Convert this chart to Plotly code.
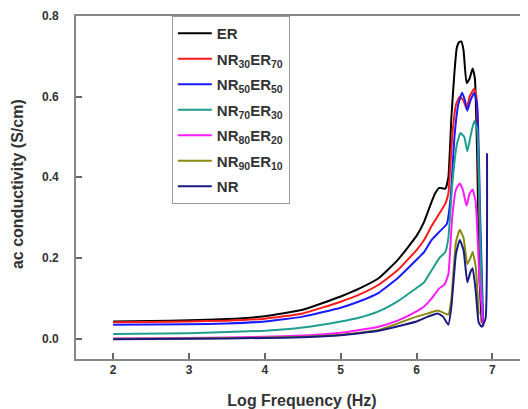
import plotly.graph_objects as go

# ---- data ----
er_x = [2.0, 2.5, 3.0, 3.5, 4.0, 4.5, 5.0, 5.25, 5.5, 5.75, 6.0, 6.1, 6.2, 6.25, 6.3, 6.38, 6.42, 6.46, 6.5, 6.53, 6.56, 6.59, 6.62, 6.66, 6.7, 6.74, 6.77, 6.8, 6.83, 6.86]
er_y = [0.043, 0.044, 0.046, 0.049, 0.056, 0.072, 0.105, 0.125, 0.15, 0.195, 0.255, 0.29, 0.34, 0.362, 0.374, 0.372, 0.40, 0.55, 0.66, 0.72, 0.735, 0.737, 0.715, 0.634, 0.645, 0.67, 0.645, 0.45, 0.15, 0.04]

nr30_x = [2.0, 2.5, 3.0, 3.5, 4.0, 4.5, 5.0, 5.25, 5.5, 5.75, 6.0, 6.1, 6.2, 6.3, 6.38, 6.42, 6.47, 6.52, 6.57, 6.62, 6.66, 6.7, 6.76, 6.79, 6.83, 6.87]
nr30_y = [0.041, 0.042, 0.043, 0.045, 0.05, 0.063, 0.092, 0.11, 0.134, 0.17, 0.22, 0.245, 0.28, 0.31, 0.335, 0.36, 0.5, 0.58, 0.6, 0.59, 0.57, 0.6, 0.62, 0.6, 0.3, 0.04]

nr50_x = [2.0, 3.0, 3.5, 4.0, 4.5, 5.0, 5.25, 5.5, 5.75, 6.0, 6.1, 6.2, 6.3, 6.4, 6.45, 6.5, 6.55, 6.6, 6.64, 6.67, 6.71, 6.76, 6.8, 6.84, 6.88]
nr50_y = [0.035, 0.036, 0.038, 0.043, 0.055, 0.077, 0.093, 0.114, 0.15, 0.196, 0.215, 0.245, 0.265, 0.285, 0.35, 0.5, 0.58, 0.61, 0.59, 0.565, 0.59, 0.61, 0.58, 0.3, 0.035]

nr70_x = [2.0, 3.0, 4.0, 4.5, 5.0, 5.25, 5.5, 5.75, 6.0, 6.1, 6.2, 6.3, 6.38, 6.42, 6.47, 6.53, 6.58, 6.63, 6.67, 6.71, 6.76, 6.8, 6.84, 6.87]
nr70_y = [0.012, 0.014, 0.02, 0.028, 0.043, 0.053, 0.068, 0.093, 0.126, 0.14, 0.17, 0.2, 0.215, 0.25, 0.38, 0.48, 0.51, 0.5, 0.465, 0.5, 0.54, 0.52, 0.25, 0.05]

nr80_x = [2.0, 3.0, 4.0, 4.5, 5.0, 5.25, 5.5, 5.75, 6.0, 6.1, 6.2, 6.3, 6.37, 6.42, 6.47, 6.52, 6.57, 6.61, 6.66, 6.7, 6.74, 6.78, 6.83, 6.88]
nr80_y = [0.001, 0.002, 0.005, 0.008, 0.015, 0.022, 0.03, 0.045, 0.068, 0.08, 0.1, 0.125, 0.135, 0.16, 0.3, 0.37, 0.385, 0.37, 0.33, 0.36, 0.37, 0.34, 0.15, 0.03]

nr90_x = [2.0, 3.0, 4.0, 4.5, 5.0, 5.5, 6.0, 6.15, 6.28, 6.35, 6.42, 6.46, 6.52, 6.57, 6.62, 6.67, 6.71, 6.74, 6.78, 6.82]
nr90_y = [0.0, 0.001, 0.003, 0.005, 0.01, 0.022, 0.055, 0.063, 0.07, 0.065, 0.06, 0.1, 0.24, 0.27, 0.25, 0.185, 0.2, 0.215, 0.18, 0.06]

nr_x = [2.0, 3.0, 4.0, 4.5, 5.0, 5.5, 6.0, 6.15, 6.28, 6.35, 6.42, 6.46, 6.52, 6.57, 6.62, 6.67, 6.71, 6.74, 6.78, 6.82, 6.86, 6.91, 6.93]
nr_y = [-0.001, 0.0, 0.002, 0.004, 0.009, 0.02, 0.043, 0.055, 0.063, 0.055, 0.035, 0.08, 0.21, 0.245, 0.22, 0.14, 0.165, 0.175, 0.12, 0.04, 0.03, 0.05, 0.46]

names = ["ER", "NR<sub>30</sub>ER<sub>70</sub>", "NR<sub>50</sub>ER<sub>50</sub>",
         "NR<sub>70</sub>ER<sub>30</sub>", "NR<sub>80</sub>ER<sub>20</sub>",
         "NR<sub>90</sub>ER<sub>10</sub>", "NR"]
xs = [er_x, nr30_x, nr50_x, nr70_x, nr80_x, nr90_x, nr_x]
ys = [er_y, nr30_y, nr50_y, nr70_y, nr80_y, nr90_y, nr_y]
colors = ["#000000", "#ff1a1a", "#1a1aff", "#1f9e8e", "#ff1aff", "#8a8a10", "#1a1a80"]

x_ticks = [2, 3, 4, 5, 6, 7]
y_ticks = [0.0, 0.2, 0.4, 0.6, 0.8]
y_tick_labels = ["0.0", "0.2", "0.4", "0.6", "0.8"]

fig = go.Figure()
for i, (n, x, y, c) in enumerate(zip(names, xs, ys, colors)):
    fig.add_trace(go.Scatter(x=x, y=y, name=n, mode="lines", legendgroup="g%d" % i,
                             line=dict(color=c, width=2, shape="spline", smoothing=0.4)))

font = "Liberation Sans, Arial, sans-serif"
tick_font = dict(size=12, family=font, color="#333333", weight="bold")

# y tick labels placed at the axis' own tick values, just left of the axis line
for v, t in zip(y_ticks, y_tick_labels):
    fig.add_annotation(x=0, xref="paper", y=v, yref="y", text=t, showarrow=False,
                       xanchor="right", yanchor="middle", xshift=-15, font=tick_font)

# y axis title
fig.add_annotation(x=-0.1305, xref="paper", y=0.51, yref="paper",
                   text="ac conductivity (S/cm)", showarrow=False, textangle=-90,
                   xanchor="center", yanchor="middle",
                   font=dict(size=16, family=font, color="#333333", weight="bold"))

fig.update_layout(
    width=520, height=401,
    margin=dict(l=68, r=0, t=8, b=50),
    paper_bgcolor="white", plot_bgcolor="white",
    font=dict(family=font, color="#333333"),
    showlegend=True,
    legend=dict(x=0.212, y=1.0, xanchor="left", yanchor="top",
                bordercolor="#999999", borderwidth=1, bgcolor="white",
                font=dict(size=15, family=font, color="#333333", weight="bold"),
                tracegroupgap=3, itemwidth=34),
    xaxis=dict(range=[1.51, 7.47], tickvals=x_ticks, ticktext=[str(v) for v in x_ticks],
               ticks="inside", ticklen=6, tickwidth=1.5, tickcolor="#666666",
               showline=True, linecolor="#888888", linewidth=2, mirror=True,
               showgrid=False, zeroline=False, automargin=False, ticklabelstandoff=-1,
               tickfont=tick_font,
               title=dict(text="Log Frequency (Hz)", standoff=20,
                          font=dict(size=16, family=font, color="#333333", weight="bold"))),
    yaxis=dict(range=[-0.05, 0.8], tickvals=y_ticks, showticklabels=False,
               ticks="inside", ticklen=6, tickwidth=1.5, tickcolor="#666666",
               showline=True, linecolor="#888888", linewidth=2, mirror=False,
               showgrid=False, zeroline=False, automargin=False),
)

fig.write_html("out.html")
